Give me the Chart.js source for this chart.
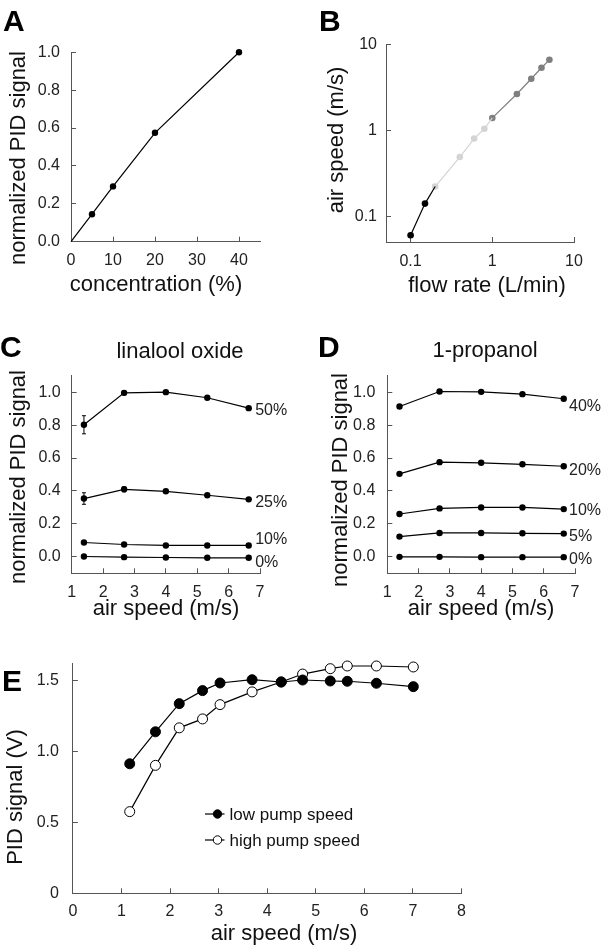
<!DOCTYPE html>
<html><head><meta charset="utf-8">
<script src="https://cdn.jsdelivr.net/npm/chart.js@4/dist/chart.umd.min.js"></script>
<style>
html,body{margin:0;padding:0;background:#fff;}
#page{position:relative;width:605px;height:947px;overflow:hidden;font-family:"Liberation Sans",Arial,sans-serif;color:#111;}
canvas{position:absolute;left:0;top:0;}
.t{position:absolute;white-space:nowrap;line-height:1;font-size:22px;transform:translate(-50%,-50%);}
.ty{transform:translate(-50%,-50%) rotate(-90deg);}
.lt{position:absolute;font-weight:bold;font-size:30px;line-height:1;color:#000;}
</style></head>
<body><div id="page">
<canvas id="cA" width="605" height="947"></canvas>
<canvas id="cB" width="605" height="947"></canvas>
<canvas id="cC" width="605" height="947"></canvas>
<canvas id="cD" width="605" height="947"></canvas>
<canvas id="cE" width="605" height="947"></canvas>

<div class="lt" style="left:3px;top:6px">A</div>
<div class="lt" style="left:319px;top:6px">B</div>
<div class="lt" style="left:0px;top:332px">C</div>
<div class="lt" style="left:318px;top:332px">D</div>
<div class="lt" style="left:2px;top:666px">E</div>

<div class="t" style="left:156px;top:284px">concentration (%)</div>
<div class="t ty" style="left:18px;top:158px">normalized PID signal</div>
<div class="t" style="left:487px;top:285px">flow rate (L/min)</div>
<div class="t ty" style="left:336px;top:140px">air speed (m/s)</div>

<div class="t" style="left:180px;top:351px">linalool oxide</div>
<div class="t" style="left:485px;top:350px">1-propanol</div>
<div class="t" style="left:166px;top:608px">air speed (m/s)</div>
<div class="t" style="left:481px;top:608px">air speed (m/s)</div>
<div class="t ty" style="left:18px;top:477px">normalized PID signal</div>
<div class="t ty" style="left:340px;top:480px">normalized PID signal</div>

<div class="t" style="left:284px;top:933px">air speed (m/s)</div>
<div class="t ty" style="left:15px;top:797px">PID signal (V)</div>
</div>
<script>
// ---------- Panel A ----------
const concentrationA = [0, 5, 10, 20, 40];
const pidA = [0, 0.145, 0.292, 0.575, 1.0];
const xTicksA = [0, 10, 20, 30, 40];
const yTicksA = [0, 0.2, 0.4, 0.6, 0.8, 1.0];

// ---------- Panel B ----------
const flowBlack = [0.1, 0.15, 0.2];
const speedBlack = [0.06, 0.14, 0.221];
const flowLight = [0.2, 0.4, 0.6, 0.8, 1.0];
const speedLight = [0.221, 0.487, 0.80, 1.04, 1.39];
const flowDark = [1, 2, 3, 4, 5];
const speedDark = [1.39, 2.64, 3.97, 5.33, 6.6];
const logTicksB = [0.1, 1, 10];

// ---------- Panel C (linalool oxide) ----------
const airSpeedCD = [1.39, 2.67, 4.0, 5.32, 6.64];
const linalool50 = [0.802, 0.996, 1.0, 0.966, 0.903];
const linalool25 = [0.354, 0.410, 0.398, 0.374, 0.349];
const linalool10 = [0.087, 0.075, 0.069, 0.069, 0.069];
const linalool0 = [0.002, -0.002, -0.004, -0.006, -0.006];
const linaloolErr50 = [0.055, 0.012, 0, 0, 0];
const linaloolErr25 = [0.035, 0.015, 0, 0, 0];
const linaloolLabels = ['50%', '25%', '10%', '0%'];

// ---------- Panel D (1-propanol) ----------
const propanol40 = [0.913, 1.004, 1.002, 0.988, 0.960];
const propanol20 = [0.504, 0.575, 0.571, 0.562, 0.550];
const propanol10 = [0.260, 0.294, 0.300, 0.300, 0.290];
const propanol5 = [0.123, 0.145, 0.145, 0.143, 0.141];
const propanol0 = [0.0, 0.0, -0.002, -0.002, -0.002];
const propanolLabels = ['40%', '20%', '10%', '5%', '0%'];

const xTicksCD = [1, 2, 3, 4, 5, 6, 7];
const yTicksCD = [0, 0.2, 0.4, 0.6, 0.8, 1.0];

// ---------- Panel E ----------
const airSpeedE = [1.17, 1.70, 2.19, 2.67, 3.03, 3.69, 4.29, 4.73, 5.30, 5.65, 6.25, 7.01];
const lowPump = [0.915, 1.141, 1.340, 1.432, 1.486, 1.509, 1.493, 1.507, 1.500, 1.498, 1.484, 1.460];
const highPump = [0.577, 0.904, 1.169, 1.232, 1.333, 1.423, 1.493, 1.549, 1.587, 1.606, 1.606, 1.599];
const seriesNamesE = ['low pump speed', 'high pump speed'];
const xTicksE = [0, 1, 2, 3, 4, 5, 6, 7, 8];
const yTicksE = [0, 0.5, 1.0, 1.5];
const yLabelsE = ['0', '0.5', '1.0', '1.5'];

// ---------- helpers ----------
const FONT = '"Liberation Sans", Arial, sans-serif';
const AXIS_COLOR = '#555';
Chart.defaults.font.family = FONT;
Chart.defaults.color = '#222';

function pts(xs, ys) { return xs.map((x, i) => ({x: x, y: ys[i]})); }
function series(xs, ys, o) {
  return Object.assign({
    data: pts(xs, ys), borderColor: '#000', borderWidth: 1.2,
    pointRadius: 3.2, pointBackgroundColor: '#000', pointBorderColor: '#000', pointBorderWidth: 0,
    fill: false, tension: 0, clip: false
  }, o || {});
}
function mkAxis(type, min, max, tickVals, fmt, pad) {
  return {
    type: type, min: min, max: max,
    border: {display: true, color: AXIS_COLOR, width: 1},
    grid: {display: true, drawOnChartArea: false, drawTicks: true, tickLength: -5, color: AXIS_COLOR, lineWidth: 1},
    ticks: {font: {size: 16}, color: '#222', padding: pad, autoSkip: false, maxRotation: 0, minRotation: 0, callback: fmt},
    afterBuildTicks: s => { s.ticks = tickVals.map(v => ({value: v})); },
    afterFit: s => { if (s.isHorizontal()) s.height = 40; else s.width = 50; }
  };
}

const endLabels = {
  id: 'endLabels',
  afterDatasetsDraw(chart, args, opts) {
    if (!opts || !opts.labels) return;
    const ctx = chart.ctx;
    ctx.save();
    ctx.font = '16px ' + FONT; ctx.fillStyle = '#222';
    ctx.textBaseline = 'middle'; ctx.textAlign = 'left';
    opts.labels.forEach((txt, i) => {
      const meta = chart.getDatasetMeta(i);
      const last = meta.data[meta.data.length - 1];
      ctx.fillText(txt, last.x + opts.dx, last.y + opts.dy[i]);
    });
    ctx.restore();
  }
};
const errorBars = {
  id: 'errorBars',
  afterDatasetsDraw(chart, args, opts) {
    if (!opts || !opts.errors) return;
    const ctx = chart.ctx, ys = chart.scales.y;
    ctx.save();
    ctx.strokeStyle = '#000'; ctx.lineWidth = 1;
    opts.errors.forEach((errs, i) => {
      if (!errs) return;
      const meta = chart.getDatasetMeta(i);
      const data = chart.data.datasets[i].data;
      errs.forEach((e, j) => {
        if (!e) return;
        const x = meta.data[j].x, v = data[j].y;
        const y1 = ys.getPixelForValue(v + e), y2 = ys.getPixelForValue(v - e);
        ctx.beginPath();
        ctx.moveTo(x, y1); ctx.lineTo(x, y2);
        ctx.moveTo(x - 2, y1); ctx.lineTo(x + 2, y1);
        ctx.moveTo(x - 2, y2); ctx.lineTo(x + 2, y2);
        ctx.stroke();
      });
    });
    ctx.restore();
  }
};
const insetLegend = {
  id: 'insetLegend',
  afterDatasetsDraw(chart, args, opts) {
    if (!opts || !opts.names) return;
    const ctx = chart.ctx, a = chart.chartArea;
    ctx.save();
    opts.names.forEach((name, i) => {
      const ds = chart.data.datasets[i];
      const cx = a.left + opts.x, cy = a.top + opts.y + i * opts.gap;
      ctx.strokeStyle = ds.borderColor; ctx.lineWidth = 1.2;
      ctx.beginPath(); ctx.moveTo(cx - 12.5, cy); ctx.lineTo(cx + 7, cy); ctx.stroke();
      ctx.beginPath(); ctx.arc(cx, cy, opts.r, 0, Math.PI * 2);
      ctx.fillStyle = ds.pointBackgroundColor; ctx.fill();
      ctx.lineWidth = 1; ctx.strokeStyle = ds.pointBorderColor; ctx.stroke();
      ctx.font = '17px ' + FONT; ctx.fillStyle = '#111';
      ctx.textBaseline = 'middle'; ctx.textAlign = 'left';
      ctx.fillText(name, cx + 12, cy + 1);
    });
    ctx.restore();
  }
};

function makeChart(id, area, xAxis, yAxis, datasets, pluginOpts) {
  const W = 50, H = 40;
  return new Chart(document.getElementById(id), {
    type: 'line',
    data: {datasets: datasets},
    options: {
      responsive: false, animation: false, devicePixelRatio: 1, events: [],
      layout: {padding: {left: area.L - W, top: area.T, right: 605 - area.R, bottom: 947 - area.B - H}},
      plugins: Object.assign({legend: {display: false}, tooltip: {enabled: false}}, pluginOpts || {}),
      scales: {x: xAxis, y: yAxis}
    },
    plugins: [endLabels, errorBars, insetLegend]
  });
}

const f1 = v => Number(v).toFixed(1);
const f0 = v => String(v);

// A
makeChart('cA', {L: 71, T: 52.3, R: 260, B: 241.7},
  mkAxis('linear', 0, 45, xTicksA, f0, 14),
  mkAxis('linear', 0, 1.0, yTicksA, f1, 16),
  [series(concentrationA, pidA, {pointRadius: [0, 3.2, 3.2, 3.2, 3.2]})]);

// B
makeChart('cB', {L: 386, T: 44.3, R: 574, B: 242},
  mkAxis('logarithmic', 0.05, 10, logTicksB, f0, 15),
  mkAxis('logarithmic', 0.05, 10, logTicksB, f0, 14),
  [
    series(flowBlack, speedBlack, {pointRadius: [3.3, 3.3, 0]}),
    series(flowLight, speedLight, {borderColor: '#d4d4d4', pointBackgroundColor: '#d4d4d4', pointBorderColor: '#d4d4d4', pointRadius: [3.3, 3.3, 3.3, 3.3, 0]}),
    series(flowDark, speedDark, {borderColor: '#7f7f7f', pointBackgroundColor: '#7f7f7f', pointBorderColor: '#7f7f7f', pointRadius: 3.3})
  ]);

// C
makeChart('cC', {L: 71.7, T: 375.7, R: 260, B: 573.3},
  mkAxis('linear', 1, 7, xTicksCD, f0, 15),
  mkAxis('linear', -0.1, 1.1, yTicksCD, f1, 16),
  [
    series(airSpeedCD, linalool50),
    series(airSpeedCD, linalool25),
    series(airSpeedCD, linalool10),
    series(airSpeedCD, linalool0)
  ],
  {endLabels: {labels: linaloolLabels, dx: 6.5, dy: [2.3, 3.7, -6, 4.7]},
   errorBars: {errors: [linaloolErr50, linaloolErr25, null, null]}});

// D
makeChart('cD', {L: 387.3, T: 375.7, R: 575, B: 573.3},
  mkAxis('linear', 1, 7, xTicksCD, f0, 15),
  mkAxis('linear', -0.1, 1.1, yTicksCD, f1, 17),
  [
    series(airSpeedCD, propanol40),
    series(airSpeedCD, propanol20),
    series(airSpeedCD, propanol10),
    series(airSpeedCD, propanol5),
    series(airSpeedCD, propanol0)
  ],
  {endLabels: {labels: propanolLabels, dx: 5.3, dy: [7.4, 4, 2, 3, 2.7]}});

// E
makeChart('cE', {L: 72.9, T: 663.3, R: 461.4, B: 893.3},
  mkAxis('linear', 0, 8, xTicksE, f0, 14),
  mkAxis('linear', 0, 1.625, yTicksE, (v, i) => yLabelsE[i], 19),
  [
    series(airSpeedE, lowPump, {pointRadius: 5, pointBorderWidth: 1}),
    series(airSpeedE, highPump, {pointRadius: 5, pointBorderWidth: 1, pointBackgroundColor: '#fff'})
  ],
  {insetLegend: {names: seriesNamesE, x: 144.6, y: 150.7, gap: 26, r: 4.2}});
</script>
</body></html>
